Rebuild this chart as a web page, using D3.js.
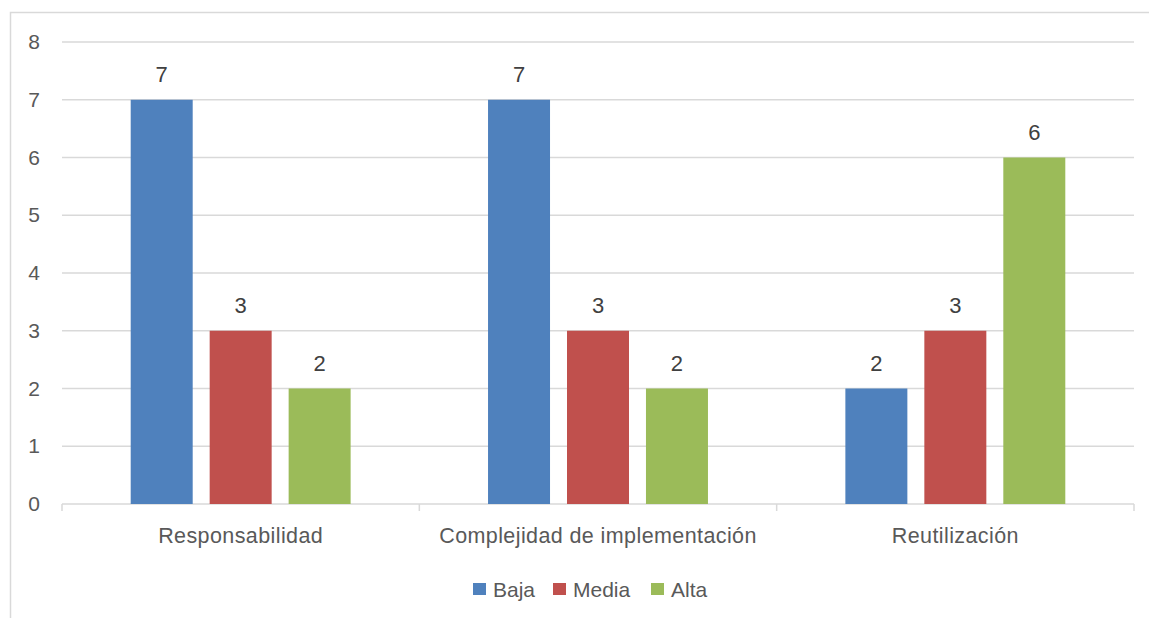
<!DOCTYPE html>
<html>
<head>
<meta charset="utf-8">
<script src="https://cdn.jsdelivr.net/npm/d3@7"></script>
<style>
  body { margin: 0; background: #fff; }
  text { font-family: "Liberation Sans", Arial, sans-serif; }
</style>
</head>
<body>
<div id="grafica"></div>
<script>
// data
var categorias = ["Responsabilidad", "Complejidad de implementación", "Reutilización"];
var series = ["Baja", "Media", "Alta"];
var baja = [7, 7, 2];
var media = [3, 3, 3];
var alta = [2, 2, 6];
var yTicks = [0, 1, 2, 3, 4, 5, 6, 7, 8];
var colores = ["#4F81BD", "#C0504D", "#9BBB59"];

var W = 1149, H = 618;
var margin = {top: 42, right: 15, bottom: 114, left: 62},
    width = W - margin.left - margin.right,
    height = H - margin.top - margin.bottom;

var svg = d3.select("#grafica")
  .append("svg")
  .attr("width", W)
  .attr("height", H);

// outer chart border
svg.append("rect")
  .attr("x", 10.5).attr("y", 12.5)
  .attr("width", W).attr("height", H)
  .attr("fill", "none")
  .attr("stroke", "#d9d9d9")
  .attr("stroke-width", 1.5);

var g = svg.append("g")
  .attr("transform", `translate(${margin.left},${margin.top})`);

var x = d3.scaleBand()
  .domain(categorias)
  .range([0, width]);

var x1 = d3.scaleBand()
  .domain(series)
  .range([0, x.bandwidth()])
  .paddingInner(0.215)
  .paddingOuter(0.87);

var y = d3.scaleLinear()
  .domain([0, 8])
  .range([height, 0]);

// gridlines
g.selectAll(".grid")
  .data(yTicks.filter(function(d) { return d > 0; }))
  .enter().append("line")
  .attr("x1", 0).attr("x2", width)
  .attr("y1", function(d) { return y(d); })
  .attr("y2", function(d) { return y(d); })
  .attr("stroke", "#d9d9d9")
  .attr("stroke-width", 1.5);

// y axis labels
var yAxis = g.append("g")
  .call(d3.axisLeft(y).tickValues(yTicks).tickSize(0).tickPadding(22).tickFormat(d3.format("d")))
  .attr("font-size", 21)
  .attr("font-family", "Liberation Sans, Arial, sans-serif");
yAxis.select(".domain").remove();
yAxis.selectAll("text")
  .attr("fill", "#595959");

// x axis
var xAxis = g.append("g")
  .attr("transform", `translate(0, ${height})`)
  .call(d3.axisBottom(x).tickSize(0))
  .attr("font-size", 21.5)
  .attr("font-family", "Liberation Sans, Arial, sans-serif");
xAxis.select(".domain").remove();
xAxis.selectAll("text")
  .attr("y", 39)
  .attr("dy", null)
  .attr("fill", "#595959")
  .style("letter-spacing", "0.4px");

g.append("line")
  .attr("x1", 0).attr("x2", width)
  .attr("y1", height).attr("y2", height)
  .attr("stroke", "#d9d9d9")
  .attr("stroke-width", 1.5);

// category boundary ticks
var bordes = categorias.map(function(c) { return x(c); }).concat([width]);
g.selectAll(".catTick")
  .data(bordes)
  .enter().append("line")
  .attr("x1", function(d) { return d; })
  .attr("x2", function(d) { return d; })
  .attr("y1", height).attr("y2", height + 7)
  .attr("stroke", "#d9d9d9")
  .attr("stroke-width", 1.5);

// bars
var valores = [baja, media, alta];
var datos = [];
categorias.forEach(function(c, i) {
  series.forEach(function(s, j) {
    datos.push({cat: c, serie: s, valor: valores[j][i], color: colores[j]});
  });
});

g.selectAll(".bar")
  .data(datos)
  .enter().append("rect")
  .attr("x", function(d) { return x(d.cat) + x1(d.serie); })
  .attr("y", function(d) { return y(d.valor); })
  .attr("width", x1.bandwidth())
  .attr("height", function(d) { return height - y(d.valor); })
  .attr("fill", function(d) { return d.color; });

// data labels
g.selectAll(".label")
  .data(datos)
  .enter().append("text")
  .attr("x", function(d) { return x(d.cat) + x1(d.serie) + x1.bandwidth() / 2; })
  .attr("y", function(d) { return y(d.valor) - 18; })
  .attr("text-anchor", "middle")
  .attr("fill", "#404040")
  .style("font-size", "22px")
  .text(function(d) { return d.valor; });

// legend
var legendX = [473, 553, 651];
var legend = svg.append("g");
series.forEach(function(s, i) {
  legend.append("rect")
    .attr("x", legendX[i]).attr("y", 583)
    .attr("width", 13).attr("height", 12)
    .attr("fill", colores[i]);
  legend.append("text")
    .attr("x", legendX[i] + 20).attr("y", 597)
    .attr("fill", "#595959")
    .style("font-size", "21px")
    .text(s);
});
</script>
</body>
</html>
